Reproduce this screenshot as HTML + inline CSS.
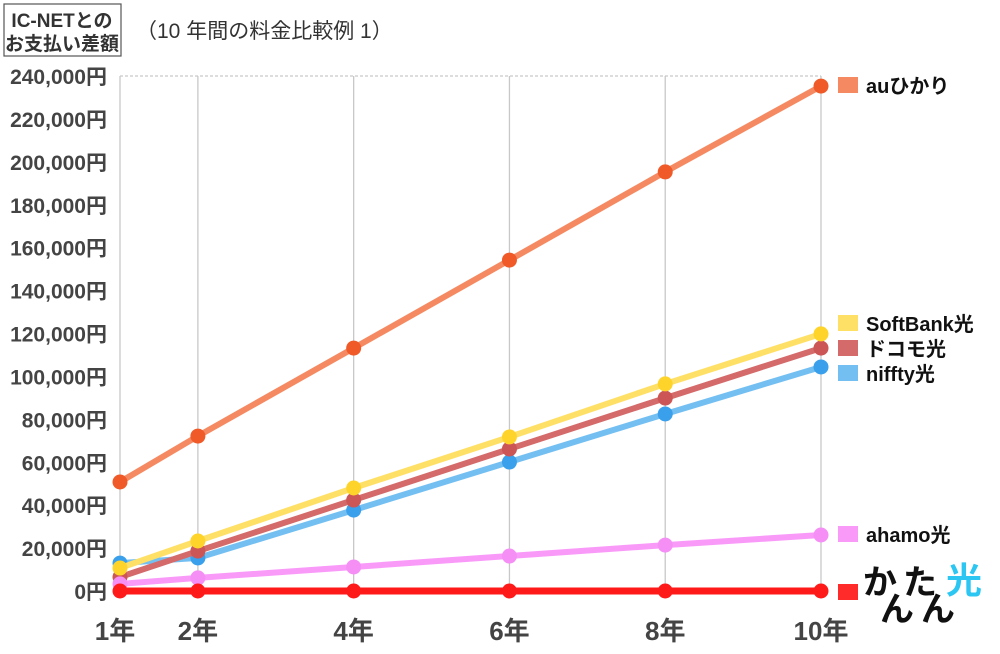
<!DOCTYPE html>
<html><head><meta charset="utf-8"><style>
body{margin:0;background:#fff;width:1000px;height:649px;overflow:hidden;font-family:"Liberation Sans","Noto Sans CJK JP",sans-serif}
</style></head><body>
<svg id="c" width="1000" height="649" xmlns="http://www.w3.org/2000/svg">
<rect x="4" y="4" width="117" height="52" fill="#fff" stroke="#555" stroke-width="1.2"/>
<text x="62" y="27" font-size="19" font-weight="bold" fill="#333" text-anchor="middle">IC-NETとの</text>
<text x="62" y="50" font-size="19" font-weight="bold" fill="#333" text-anchor="middle">お支払い差額</text>
<text x="136" y="38" font-size="21" fill="#333">（10 年間の料金比較例 1）</text>
<g id="grid"></g><g id="axes"></g><g id="series"></g><g id="legend"></g>
<g font-weight="bold" font-size="34" fill="#111">
<text x="863" y="594">か</text>
<text x="880" y="621">ん</text>
<text x="903" y="594">た</text>
<text x="921" y="621">ん</text>
<text x="946" y="593" fill="#2cc6f2" font-size="36">光</text>
</g>
</svg>
<script>
const years=[1,2,4,6,8,10];
const yTicks=[0,20000,40000,60000,80000,100000,120000,140000,160000,180000,200000,220000,240000];
const auValues=[50800,72200,113200,154200,195300,235300];
const softbankValues=[10700,23300,48000,71800,96500,119800];
const docomoValues=[6500,18600,42400,66200,89900,113200];
const niftyValues=[13000,15400,37700,60100,82500,104400];
const ahamoValues=[3300,6100,11200,16300,21400,26100];
const kantanValues=[0,0,0,0,0,0];
const seriesNames=["auひかり","SoftBank光","ドコモ光","niffty光","ahamo光","かんたん光"];
const NS="http://www.w3.org/2000/svg";
const x=v=>120+(v-1)*(821-120)/9;
const y=v=>591-v*(591-76)/240000;
function mk(t,a,p){const e=document.createElementNS(NS,t);for(const k in a)e.setAttribute(k,a[k]);p.appendChild(e);return e;}
const grid=document.getElementById('grid'),axes=document.getElementById('axes'),ser=document.getElementById('series'),leg=document.getElementById('legend');
const topLine=mk('line',{x1:120,x2:821,y1:y(240000),y2:y(240000),stroke:'#bbb','stroke-dasharray':'3,2'},grid);


years.forEach(v=>{
const l=mk('line',{x1:x(v),x2:x(v),y1:y(240000),y2:591,stroke:'#c8c8c8','stroke-width':1.3},grid);


const t=mk('text',{x:x(v)+(v==1?-5:0),y:640,'font-size':26,'font-weight':'bold',fill:'#444','text-anchor':'middle'},axes);
t.textContent=v+'年';


});
yTicks.forEach(v=>{
const t=mk('text',{x:107,y:y(v)+8,'font-size':21,'font-weight':'bold',fill:'#444','text-anchor':'end'},axes);
t.textContent=v.toLocaleString('en-US')+'円';


});
const all=[[auValues,'#f58a62','#f05a28'],[softbankValues,'#ffe066','#ffd42a'],[docomoValues,'#d46a6a','#cc5555'],[niftyValues,'#74bff2','#3aa0ec'],[ahamoValues,'#f99af9','#f58ef5'],[kantanValues,'#ff1a1a','#ff1a1a']];
const order=[3,2,1,4,0,5];
order.forEach(i=>{
const [vals,lc,pc]=all[i];
const pl=mk('polyline',{points:vals.map((v,j)=>x(years[j])+','+y(v)).join(' '),fill:'none',stroke:lc,'stroke-width':i==5?7:6},ser);


vals.forEach((v,j)=>{
const c=mk('circle',{cx:x(years[j]),cy:y(v),r:7.5,fill:pc},ser);


});
});
const legY=[85,323,348,373,534,592];
const legFill=['#f58a62','#ffe066','#d46a6a','#74bff2','#f99af9','#ff2a2a'];
for(let i=0;i<5;i++){
const r=mk('rect',{x:838,y:legY[i]-8,width:20,height:16,fill:legFill[i]},leg);


const t=mk('text',{x:866,y:legY[i]+8,'font-size':20,'font-weight':'bold',fill:'#111'},leg);
t.textContent=seriesNames[i];


}
const r=mk('rect',{x:838,y:584,width:20,height:16,fill:'#ff2a2a'},leg);


</script>
</body></html>
